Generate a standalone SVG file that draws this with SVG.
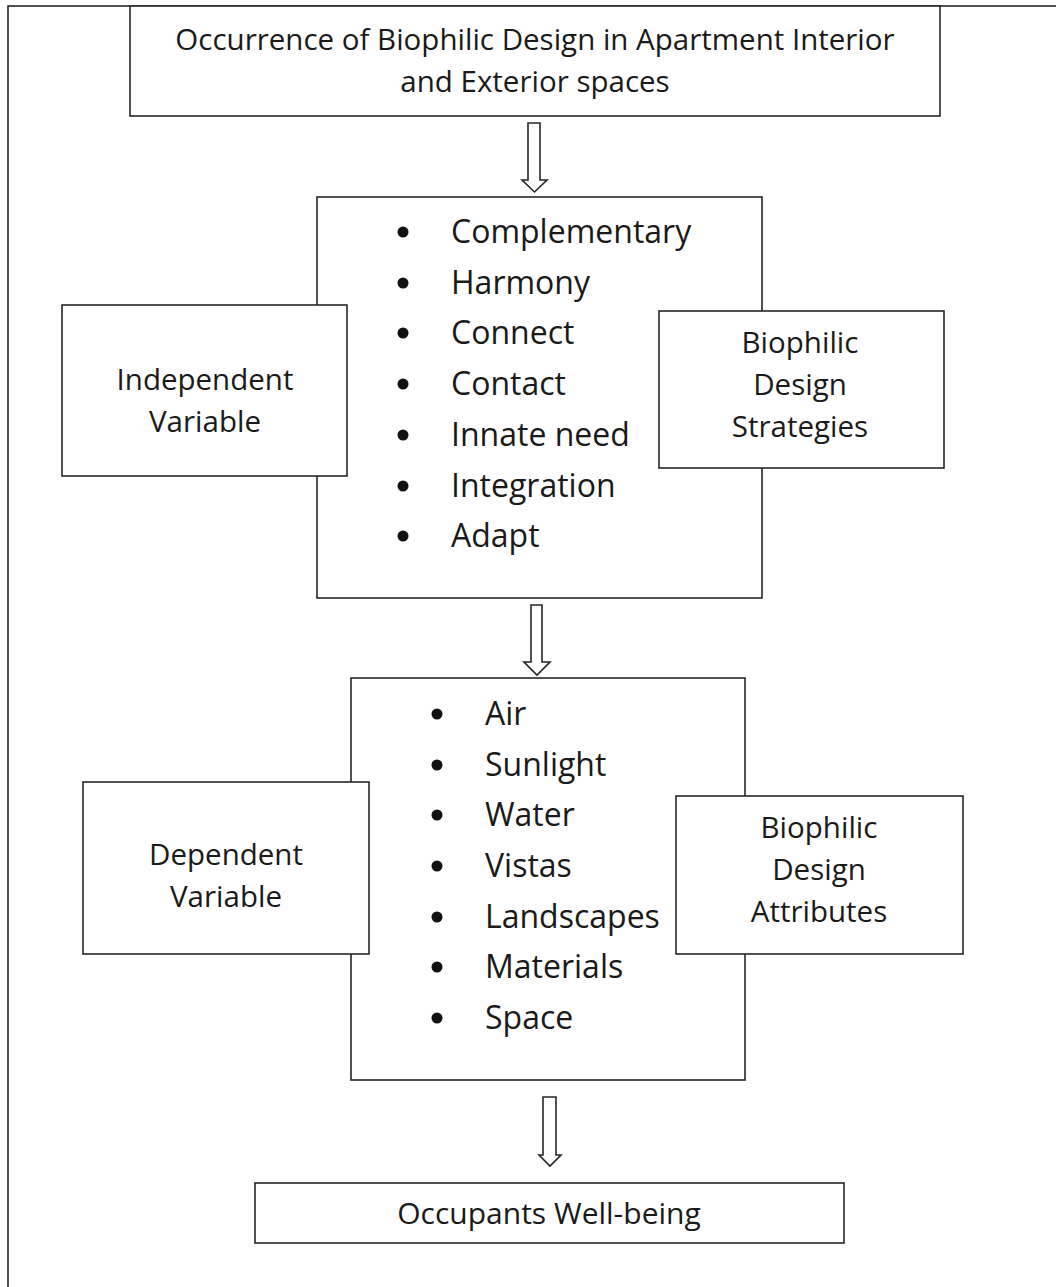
<svg xmlns="http://www.w3.org/2000/svg" width="1056" height="1287" viewBox="0 0 1056 1287">
<style>
.box{fill:#fff;stroke:#262626;stroke-width:1.6}
.arr{fill:#fff;stroke:#262626;stroke-width:1.6;stroke-linejoin:miter}
text{font-family:"Open Sans","Noto Sans",sans-serif;fill:#1a1a1a}
.t{font-size:29.5px;text-anchor:middle}
.s{font-size:29.5px;text-anchor:middle}
.w{font-size:30px;text-anchor:middle}
.l{font-size:32px}
.b{fill:#111}
</style>
<rect x="8" y="6" width="1100" height="1400" fill="none" stroke="#262626" stroke-width="1.6"/>
<g id="top">
<rect class="box" x="130" y="6" width="810" height="110"/>
<text class="t" x="535" y="50">Occurrence of Biophilic Design in Apartment Interior</text>
<text class="t" x="535" y="92">and Exterior spaces</text>
</g>
<g id="strategies-list">
<rect class="box" x="317" y="197" width="445" height="401"/>
<g class="b">
<circle cx="403" cy="232" r="5.5"/><circle cx="403" cy="283" r="5.5"/><circle cx="403" cy="333" r="5.5"/><circle cx="403" cy="384" r="5.5"/><circle cx="403" cy="435" r="5.5"/><circle cx="403" cy="486" r="5.5"/><circle cx="403" cy="536" r="5.5"/>
</g>
<text class="l" x="451" y="243">Complementary</text>
<text class="l" x="451" y="294">Harmony</text>
<text class="l" x="451" y="344">Connect</text>
<text class="l" x="451" y="395">Contact</text>
<text class="l" x="451" y="446">Innate need</text>
<text class="l" x="451" y="497">Integration</text>
<text class="l" x="451" y="547">Adapt</text>
</g>
<g id="independent">
<rect class="box" x="62" y="305" width="285" height="171"/>
<text class="s" x="205" y="390">Independent</text>
<text class="s" x="205" y="432">Variable</text>
</g>
<g id="strategies">
<rect class="box" x="659" y="311" width="285" height="157"/>
<text class="s" x="800" y="353">Biophilic</text>
<text class="s" x="800" y="395">Design</text>
<text class="s" x="800" y="437">Strategies</text>
</g>
<g id="attributes-list">
<rect class="box" x="351" y="678" width="394" height="402"/>
<g class="b">
<circle cx="437" cy="714" r="5.5"/><circle cx="437" cy="765" r="5.5"/><circle cx="437" cy="815" r="5.5"/><circle cx="437" cy="866" r="5.5"/><circle cx="437" cy="917" r="5.5"/><circle cx="437" cy="967" r="5.5"/><circle cx="437" cy="1018" r="5.5"/>
</g>
<text class="l" x="485" y="725">Air</text>
<text class="l" x="485" y="776">Sunlight</text>
<text class="l" x="485" y="826">Water</text>
<text class="l" x="485" y="877">Vistas</text>
<text class="l" x="485" y="928">Landscapes</text>
<text class="l" x="485" y="978">Materials</text>
<text class="l" x="485" y="1029">Space</text>
</g>
<g id="dependent">
<rect class="box" x="83" y="782" width="286" height="172"/>
<text class="s" x="226" y="865">Dependent</text>
<text class="s" x="226" y="907">Variable</text>
</g>
<g id="attributes">
<rect class="box" x="676" y="796" width="287" height="158"/>
<text class="s" x="819" y="838">Biophilic</text>
<text class="s" x="819" y="880">Design</text>
<text class="s" x="819" y="922">Attributes</text>
</g>
<g id="wellbeing">
<rect class="box" x="255" y="1183" width="589" height="60"/>
<text class="w" x="549" y="1224">Occupants Well-being</text>
</g>
<g id="connectors">
<polygon class="arr" points="528,123 540,123 540,180 547,180 534.5,192 522,180 528,180"/>
<polygon class="arr" points="531,605 542,605 542,662 550,662 537,675 524,662 531,662"/>
<polygon class="arr" points="543,1097 556,1097 556,1155 561,1155 550,1166 539,1155 543,1155"/>
</g>
</svg>
